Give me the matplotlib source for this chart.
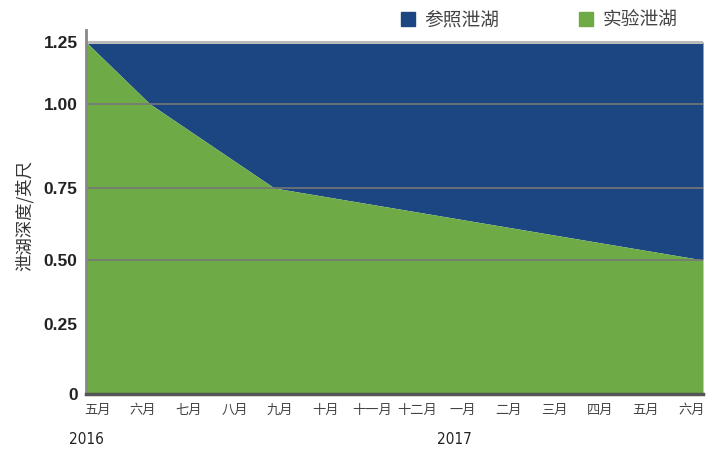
import numpy as np
import matplotlib.pyplot as plt
from matplotlib.patches import Patch

plt.rcParams['font.family'] = ['Noto Sans CJK SC', 'DejaVu Sans']

# months along the x axis (index position = label centre)
months = ['五月', '六月', '七月', '八月', '九月', '十月', '十一月', '十二月',
          '一月', '二月', '三月', '四月', '五月', '六月']
years = ['2016', '2017']
year_pos = [-0.25, 7.8]

# lagoon depth in feet, x in month units
depth_x = [-0.25, 1.15, 3.87, 13.25]
test_depth = [1.25, 1.00, 0.75, 0.50]
ref_depth = [1.25, 1.25, 1.25, 1.25]

yticks = [0, 0.25, 0.50, 0.75, 1.00, 1.25]
ytick_labels = ['0', '0.25', '0.50', '0.75', '1.00', '1.25']

blue = '#1b4682'
green = '#6eab46'

# the printed axis is not evenly spaced, so map values piecewise
knots_v = np.array([0, 0.25, 0.5, 0.75, 1.0, 1.25, 1.30])
knots_p = np.array([0, 70, 134, 206, 290, 352, 364], dtype=float)


def fwd(v):
    return np.interp(v, knots_v, knots_p)


def inv(p):
    return np.interp(p, knots_p, knots_v)


fig = plt.figure(figsize=(7.15, 4.49), dpi=100)
ax = fig.add_axes([86 / 715, 55 / 449, 617 / 715, 364 / 449])
ax.set_yscale('function', functions=(fwd, inv))

ax.fill_between(depth_x, test_depth, ref_depth, color=blue, lw=0, zorder=1)
ax.fill_between(depth_x, 0, test_depth, color=green, lw=0, zorder=1)

for v in [0.50, 0.75, 1.00]:
    ax.axhline(v, color='#777777', lw=1.2, zorder=2)
ax.axhline(1.25, color='#bbbbbb', lw=2.2, zorder=2)

ax.set_xlim(-0.25, 13.25)
ax.set_ylim(0, 1.30)

ax.set_yticks(yticks)
ax.set_yticklabels(ytick_labels, fontsize=12.5, fontweight='bold',
                   family=['Liberation Sans', 'DejaVu Sans'], color='#222222')
ax.set_xticks(range(len(months)))
ax.set_xticklabels(months, fontsize=9.5, color='#444444')
ax.tick_params(axis='both', length=0)
ax.tick_params(axis='x', pad=7)
ax.tick_params(axis='y', pad=6)

for s in ['top', 'right']:
    ax.spines[s].set_visible(False)
ax.spines['left'].set_color('#888888')
ax.spines['left'].set_linewidth(2)
ax.spines['bottom'].set_color('#555555')
ax.spines['bottom'].set_linewidth(2.5)
ax.spines['bottom'].set_zorder(3)

ax.set_ylabel('泄湖深度/英尺', fontsize=12.5, color='#333333')
ax.yaxis.set_label_coords(-0.085, 0.49)

trans = ax.get_xaxis_transform()
for yr, xp in zip(years, year_pos):
    ax.text(xp, -0.125, yr, transform=trans, ha='center', va='center',
            fontsize=11, color='#222222', family='DejaVu Sans',
            fontstretch='condensed')

handles = [Patch(color=blue, label='参照泄湖'), Patch(color=green, label='实验泄湖')]
fig.legend(handles=handles, loc='center left', bbox_to_anchor=(384 / 715, 1 - 20 / 449),
           ncol=2, frameon=False, fontsize=13.5, handlelength=0.75, handleheight=0.75,
           handletextpad=0.5, columnspacing=4.25, labelcolor='#444444')

fig.savefig('out.png', dpi=100)
